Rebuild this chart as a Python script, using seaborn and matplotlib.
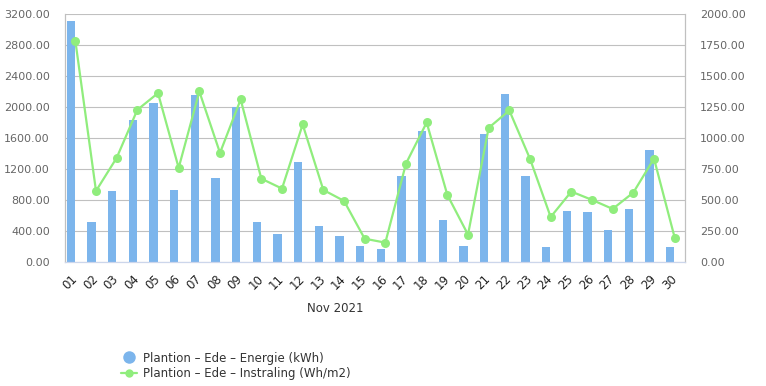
import matplotlib
matplotlib.use('Agg')
import matplotlib.pyplot as plt
from matplotlib.lines import Line2D
from matplotlib.ticker import FormatStrFormatter, MultipleLocator
import numpy as np
import pandas as pd
import seaborn as sns

days = ['01', '02', '03', '04', '05', '06', '07', '08', '09', '10',
        '11', '12', '13', '14', '15', '16', '17', '18', '19', '20',
        '21', '22', '23', '24', '25', '26', '27', '28', '29', '30']
energie = [3114, 517, 917, 1835, 2054, 930, 2158, 1085, 1994, 517,
           362, 1292, 465, 336, 207, 168, 1111, 1693, 543, 207,
           1654, 2171, 1111, 194, 659, 646, 413, 685, 1447, 194]
instraling = [1785, 573, 840, 1227, 1362, 759, 1375, 880, 1311, 672,
              592, 1109, 581, 493, 188, 156, 794, 1125, 541, 221,
              1082, 1222, 832, 363, 568, 501, 428, 560, 834, 197]

bar_label = 'Plantion \u2013 Ede \u2013 Energie (kWh)'
line_label = 'Plantion \u2013 Ede \u2013 Instraling (Wh/m2)'

bar_color = '#7cb5ec'
line_color = '#90ed7d'
grid_color = '#c0c0c0'
label_color = '#666666'

sns.set_theme(style='white')
plt.rcParams['font.family'] = ['DejaVu Sans']

pos = np.arange(len(days))
df = pd.DataFrame({'pos': pos, 'day': days,
                   'energie': energie, 'instraling': instraling})
df['bar_pos'] = df['pos'] - 0.22

fig = plt.figure(figsize=(7.66, 3.86), dpi=100)
ax = fig.add_axes([65 / 766, 1 - 262 / 386, 620 / 766, 248 / 386])

# columns, shifted a bit left like the original
sns.barplot(data=df, x='bar_pos', y='energie', native_scale=True,
            width=0.4, color=bar_color, saturation=1, linewidth=0,
            ax=ax, zorder=2)
ax.set_xlim(-0.5, len(days) - 0.5)
ax.set_ylim(0, 3200)
ax.yaxis.set_major_locator(MultipleLocator(400))
ax.yaxis.set_major_formatter(FormatStrFormatter('%.2f'))
ax.grid(axis='y', color=grid_color, linewidth=0.8, zorder=0)
ax.set_axisbelow(True)

ax2 = ax.twinx()
sns.lineplot(data=df, x='pos', y='instraling', color=line_color,
             linewidth=1.6, marker='o', markersize=6.5,
             markeredgewidth=0, ax=ax2, zorder=3)
ax2.set_ylim(0, 2000)
ax2.yaxis.set_major_locator(MultipleLocator(250))
ax2.yaxis.set_major_formatter(FormatStrFormatter('%.2f'))
ax2.set_xlim(-0.5, len(days) - 0.5)

ax.set_xticks(pos)
ax.set_xticklabels(days, rotation=45, ha='right', va='center',
                   rotation_mode='anchor', fontsize=8.5, color='#222222')
ax.tick_params(axis='x', length=0, pad=11)
ax.tick_params(axis='y', length=0, pad=11, labelsize=8, labelcolor=label_color)
ax2.tick_params(axis='y', length=0, pad=11, labelsize=8, labelcolor=label_color)
ax.set_xlabel('')
ax.set_ylabel('')
ax2.set_ylabel('')
ax2.set_xlabel('')

for a in (ax, ax2):
    a.spines['top'].set_visible(False)
    a.spines['left'].set_color('#c0c0c0')
    a.spines['right'].set_color('#c0c0c0')
    a.spines['bottom'].set_color('#ccd6eb')
    for s in a.spines.values():
        s.set_linewidth(0.8)

fig.text(335 / 766, 1 - 309 / 386, 'Nov 2021', ha='center', va='center',
         fontsize=8.5, color='#333333')

handles = [
    Line2D([], [], linestyle='none', marker='o', markersize=9,
           markerfacecolor=bar_color, markeredgewidth=0),
    Line2D([], [], color=line_color, linewidth=1.6, marker='o',
           markersize=6, markeredgewidth=0),
]
fig.legend(handles, [bar_label, line_label], loc='center left',
           bbox_to_anchor=(115 / 766, 1 - 366 / 386), frameon=False,
           fontsize=8.5, labelcolor='#333333', handlelength=1.4,
           handletextpad=0.5, labelspacing=0.25, borderpad=0)

fig.savefig('out.png', dpi=100)
